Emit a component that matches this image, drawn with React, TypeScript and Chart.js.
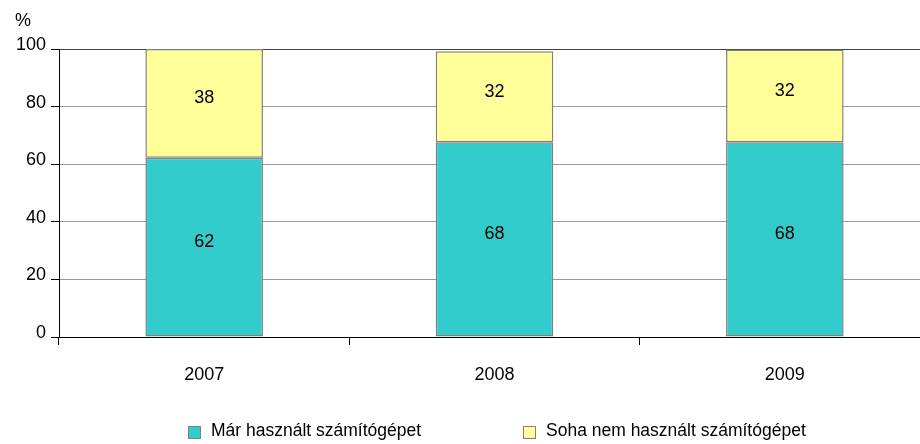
import React, { useEffect, useRef } from "react";
import { Chart, registerables } from "chart.js";

Chart.register(...registerables);

const categories = ["2007", "2008", "2009"];
const usedValues = [62.2, 67.6, 67.6];
const neverValues = [37.8, 31.6, 32.2];
const seriesNames = ["Már használt számítógépet", "Soha nem használt számítógépet"];
const seriesColors = ["#33CCCC", "#FFFF99"];
const yTicks = [0, 20, 40, 60, 80, 100];
const yUnit = "%";

const FONT = "'Liberation Sans', Arial, sans-serif";
const FS = 18;
const LEGEND_FS = 17.5;

const labelPlugin = {
  id: "barLabels",
  afterDatasetsDraw(chart: any) {
    const ctx = chart.ctx;
    ctx.save();
    ctx.font = `${FS}px ${FONT}`;
    ctx.fillStyle = "#000";
    ctx.textAlign = "center";
    ctx.textBaseline = "middle";
    chart.data.datasets.forEach((ds: any, di: number) => {
      const meta = chart.getDatasetMeta(di);
      meta.data.forEach((el: any, i: number) => {
        const v = ds.data[i];
        const cy = (el.y + el.base) / 2 - 5;
        ctx.fillText(String(Math.round(v)), el.x, cy);
      });
    });
    ctx.restore();
  },
};

const extrasPlugin = {
  id: "extras",
  afterDraw(chart: any) {
    const ctx = chart.ctx;
    const area = chart.chartArea;
    ctx.save();
    ctx.font = `${FS}px ${FONT}`;
    ctx.fillStyle = "#000";
    ctx.textAlign = "left";
    ctx.textBaseline = "middle";
    // unit label
    ctx.fillText(yUnit, area.left - 44, area.top - 28);
    // legend
    ctx.font = `${LEGEND_FS}px ${FONT}`;
    const boxXs = [area.left + 129, area.left + 464];
    const boxY = 426;
    const box = 13;
    seriesNames.forEach((name, i) => {
      ctx.fillStyle = seriesColors[i];
      ctx.fillRect(boxXs[i], boxY, box, box);
      ctx.strokeStyle = "#808080";
      ctx.lineWidth = 1;
      ctx.strokeRect(boxXs[i] + 0.5, boxY + 0.5, box - 1, box - 1);
      ctx.fillStyle = "#000";
      ctx.fillText(name, boxXs[i] + box + 10, boxY + box / 2 - 1);
    });
    ctx.restore();
  },
};

export default function App() {
  const ref = useRef<HTMLCanvasElement | null>(null);
  useEffect(() => {
    if (!ref.current) return;
    const chart = new Chart(ref.current, {
      type: "bar",
      data: {
        labels: categories,
        datasets: [
          {
            label: seriesNames[0],
            data: usedValues,
            backgroundColor: seriesColors[0],
            borderColor: "#808080",
            borderWidth: 1.5,
            borderSkipped: false,
            barPercentage: 0.405,
            categoryPercentage: 1,
          },
          {
            label: seriesNames[1],
            data: neverValues,
            backgroundColor: seriesColors[1],
            borderColor: "#808080",
            borderWidth: 1.5,
            borderSkipped: false,
            barPercentage: 0.405,
            categoryPercentage: 1,
          },
        ],
      },
      options: {
        animation: false,
        responsive: true,
        maintainAspectRatio: false,
        layout: { padding: { top: 49, right: 44, left: 0, bottom: 0 } },
        plugins: {
          legend: { display: false },
          tooltip: { enabled: false },
        },
        scales: {
          x: {
            stacked: true,
            afterFit(scale: any) {
              scale.height = 107;
            },
            grid: {
              offset: true,
              drawOnChartArea: false,
              drawTicks: true,
              tickLength: 8,
              tickColor: "#000",
            },
            border: { display: true, color: "#000", width: 1 },
            ticks: {
              color: "#000",
              font: { family: FONT, size: FS },
              padding: 19,
            },
          },
          y: {
            stacked: true,
            min: 0,
            max: 100,
            afterFit(scale: any) {
              scale.width = 59;
            },
            afterBuildTicks(scale: any) {
              scale.ticks = yTicks.map((v) => ({ value: v }));
            },
            grid: {
              color: (c: any) => (c.tick && c.tick.value === 100 ? "#404040" : "#9a9a9a"),
              lineWidth: 1,
              drawTicks: true,
              tickLength: 8,
              tickColor: "#000",
            },
            border: { display: true, color: "#000", width: 1 },
            ticks: {
              color: "#000",
              font: { family: FONT, size: FS },
              padding: 5,
              labelOffset: -4,
            },
          },
        },
      },
      plugins: [labelPlugin, extrasPlugin],
    });
    return () => chart.destroy();
  }, []);
  return (
    <div style={{ position: "fixed", left: 0, top: 0, width: 974, height: 444, background: "#fff" }}>
      <canvas ref={ref} />
    </div>
  );
}
